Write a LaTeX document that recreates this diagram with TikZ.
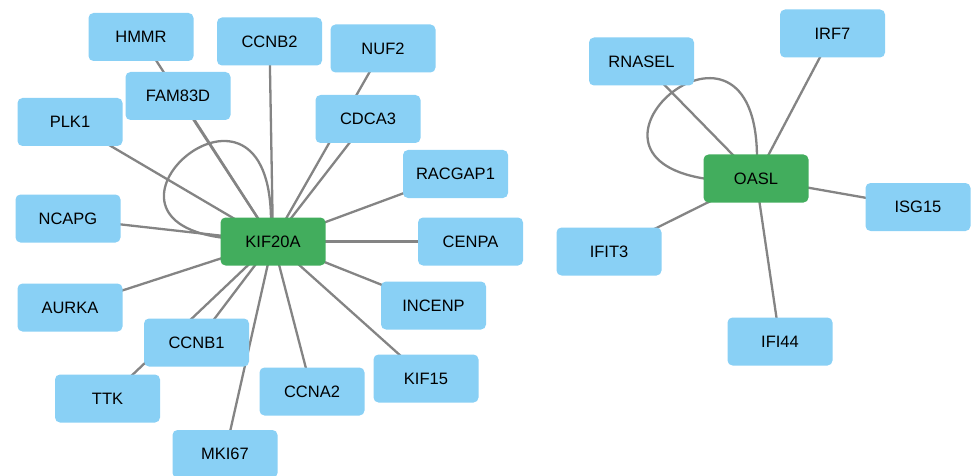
\documentclass[tikz,border=0pt]{standalone}
\usepackage{fontspec}
\setmainfont{Liberation Sans}
\definecolor{nodeblue}{RGB}{137,208,245}
\definecolor{nodegreen}{RGB}{66,173,93}
\definecolor{edgegray}{RGB}{132,132,132}
\tikzset{
  gene/.style={rectangle, rounded corners=5pt, fill=nodeblue, minimum width=105pt, minimum height=48pt, inner sep=0pt, font=\fontsize{16.5}{19}\selectfont},
  hub/.style={gene, fill=nodegreen},
  link/.style={edgegray, line width=2.3pt},
}
\pgfdeclarelayer{bg}
\pgfsetlayers{bg,main}
\begin{document}
\begin{tikzpicture}[x=1pt,y=-1pt]
\useasboundingbox (0,0) rectangle (972,476);
% hubs
\node[hub] (KIF20A) at (273,241.5) {KIF20A};
\node[hub] (OASL) at (756,178.5) {OASL};
% KIF20A neighbours
\node[gene] (HMMR) at (141,37) {HMMR};
\node[gene] (CCNB2) at (269.5,41.5) {CCNB2};
\node[gene] (NUF2) at (383,48.5) {NUF2};
\node[gene] (FAM83D) at (178,96) {FAM83D};
\node[gene] (PLK1) at (70,122) {PLK1};
\node[gene] (CDCA3) at (368,119) {CDCA3};
\node[gene] (RACGAP1) at (455.5,174) {RACGAP1};
\node[gene] (NCAPG) at (68,218.5) {NCAPG};
\node[gene] (CENPA) at (470.5,241.5) {CENPA};
\node[gene] (AURKA) at (70,307.5) {AURKA};
\node[gene] (INCENP) at (433.5,305.5) {INCENP};
\node[gene] (CCNB1) at (196.5,342.5) {CCNB1};
\node[gene] (TTK) at (107.5,398.5) {TTK};
\node[gene] (CCNA2) at (312,391.5) {CCNA2};
\node[gene] (KIF15) at (426,378.5) {KIF15};
\node[gene] (MKI67) at (225,454) {MKI67};
% OASL neighbours
\node[gene] (RNASEL) at (641.5,61.5) {RNASEL};
\node[gene] (IRF7) at (832.5,33.5) {IRF7};
\node[gene] (ISG15) at (918,207) {ISG15};
\node[gene] (IFIT3) at (609,251.5) {IFIT3};
\node[gene] (IFI44) at (780,341.5) {IFI44};
% edges behind nodes
\begin{pgfonlayer}{bg}
\foreach \n in {HMMR,CCNB2,NUF2,FAM83D,PLK1,CDCA3,RACGAP1,NCAPG,CENPA,AURKA,INCENP,CCNB1,TTK,CCNA2,KIF15,MKI67}
  \draw[link] (KIF20A.center) -- (\n.center);
\foreach \n in {RNASEL,IRF7,ISG15,IFIT3,IFI44}
  \draw[link] (OASL.center) -- (\n.center);
\draw[link] ([shift={(-2,-20)}]KIF20A.center) .. controls ([shift={(-2,-200)}]KIF20A.center) and ([shift={(-205,-25)}]KIF20A.center) .. ([shift={(-52,-4)}]KIF20A.center);
\draw[link] ([shift={(1,-20)}]OASL.center) .. controls ([shift={(1,-200)}]OASL.center) and ([shift={(-205,-25)}]OASL.center) .. ([shift={(-52,0)}]OASL.center);
\end{pgfonlayer}
\end{tikzpicture}
\end{document}
